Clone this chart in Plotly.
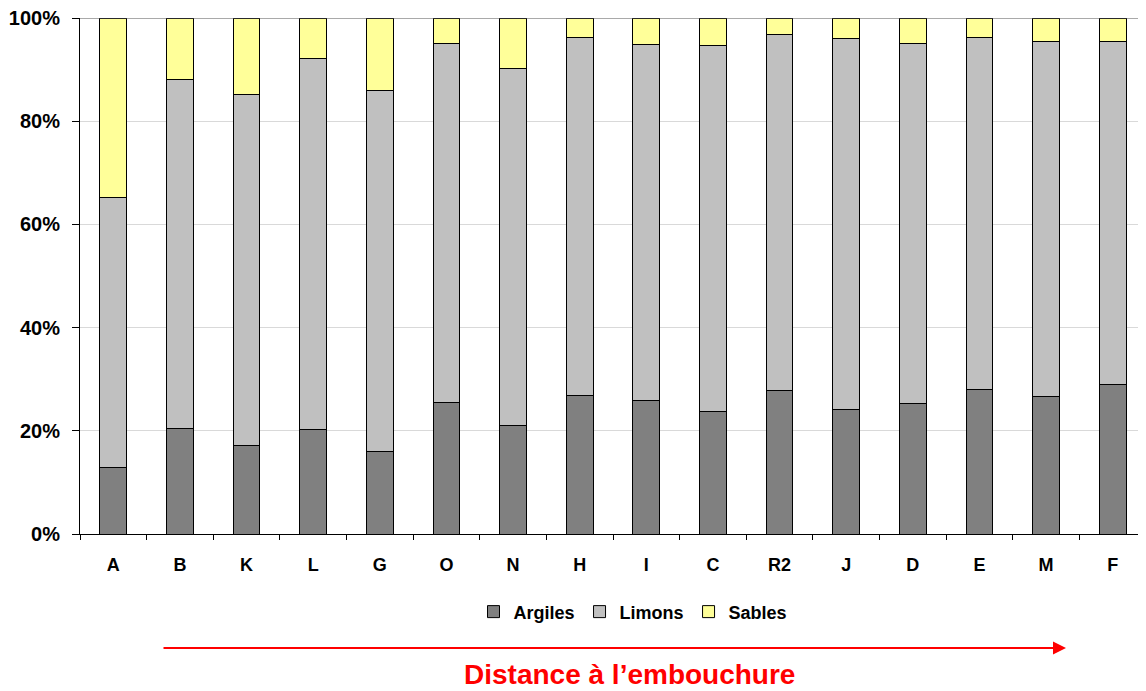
import plotly.graph_objects as go

categories = ["A", "B", "K", "L", "G", "O", "N", "H", "I", "C", "R2", "J", "D", "E", "M", "F"]
argiles = [12.8, 20.5, 17.2, 20.2, 16.0, 25.5, 21.0, 26.9, 25.8, 23.7, 27.8, 24.1, 25.3, 28.0, 26.7, 29.0]
limons = [52.5, 67.5, 67.9, 72.0, 70.0, 69.5, 69.2, 69.3, 69.0, 70.9, 69.0, 71.9, 69.7, 68.3, 68.7, 66.5]
sables = [34.7, 12.0, 14.9, 7.8, 14.0, 5.0, 9.8, 3.8, 5.2, 5.4, 3.2, 4.0, 5.0, 3.7, 4.6, 4.5]

series = [("Argiles", argiles, "#808080"), ("Limons", limons, "#c0c0c0"), ("Sables", sables, "#ffff99")]

fig = go.Figure()
for name, vals, col in series:
    fig.add_trace(go.Bar(x=categories, y=vals, name=name,
                         marker=dict(color=col, line=dict(color="#000000", width=1))))

font_family = "Liberation Sans, Arial, sans-serif"
fig.update_layout(
    barmode="stack",
    bargap=0.6,
    width=1138, height=683,
    margin=dict(l=72, r=0, t=10, b=157, autoexpand=False),
    plot_bgcolor="white", paper_bgcolor="white",
    font=dict(family=font_family, color="black"),
    showlegend=True,
    legend=dict(orientation="h", x=(633 - 80) / 1066, y=-0.151, xanchor="center", yanchor="middle",
                traceorder="normal",
                font=dict(size=18, family=font_family, weight="bold"),
                itemwidth=30),
    xaxis=dict(showline=True, linecolor="black", linewidth=1, ticks="outside",
               tickson="boundaries", ticklen=5, tickcolor="black",
               ticklabelstandoff=14,
               tickfont=dict(size=18, weight="bold"), showgrid=False),
    yaxis=dict(range=[0, 100], tickvals=[0, 20, 40, 60, 80, 100],
               ticktext=["0%", "20%", "40%", "60%", "80%", "100%"],
               showline=True, linecolor="black", linewidth=1, ticks="outside",
               ticklen=7, tickcolor="black", showgrid=True, gridcolor="#d9d9d9",
               ticklabelstandoff=8, ticklabeloverflow="allow",
               gridwidth=1, tickfont=dict(size=20, weight="bold"), zeroline=False),
)

fig.add_shape(type="line", xref="paper", yref="y", x0=0, x1=1, y0=100, y1=100,
              line=dict(color="#555555", width=1))

fig.add_annotation(xref="paper", yref="paper", x=(1066 - 80) / 1066, y=-0.221,
                   axref="pixel", ayref="pixel", ax=-904, ay=0,
                   showarrow=True, arrowhead=2, arrowsize=1.3, arrowwidth=2,
                   arrowcolor="#ff0000", text="")
fig.add_annotation(xref="paper", yref="paper", x=(629 - 80) / 1066, y=-0.273,
                   showarrow=False, text="Distance à l’embouchure",
                   font=dict(size=28, color="#ff0000", family=font_family, weight="bold"),
                   xanchor="center", yanchor="middle")

fig.write_html("out.html")
